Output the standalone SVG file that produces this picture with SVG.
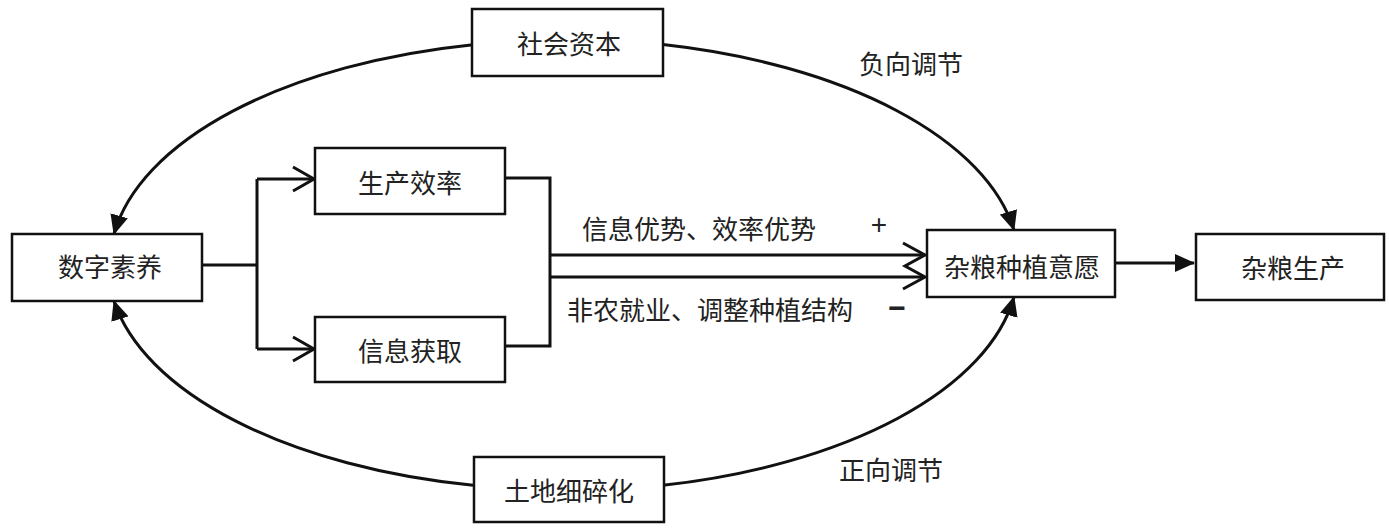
<svg xmlns="http://www.w3.org/2000/svg" width="1389" height="528" viewBox="0 0 1389 528">
<style>
.box{fill:#fff;stroke:#111;stroke-width:2.5}
.t{font-family:"Noto Sans CJK SC","Noto Sans",sans-serif;font-size:26px;fill:#222;text-anchor:middle;dominant-baseline:central}
.sign{font-family:"Liberation Sans","Noto Sans",sans-serif;fill:#222;text-anchor:middle;dominant-baseline:central}
.ln{fill:none;stroke:#111;stroke-width:3}
.open{fill:none;stroke:#111;stroke-width:3;stroke-linejoin:miter}
</style>
<defs>
<marker id="tri" markerUnits="userSpaceOnUse" markerWidth="20" markerHeight="18" refX="19" refY="9" orient="auto">
<path d="M0,0 L20,9 L0,18 z" fill="#111"/>
</marker>
</defs>
<rect width="1389" height="528" fill="#fff"/>
<g id="connectors">
<path class="ln" d="M473,44.7 A455,225 0 0 0 114,234" marker-end="url(#tri)"/>
<path class="ln" d="M663,44.6 A455,225 0 0 1 1014,230" marker-end="url(#tri)"/>
<path class="ln" d="M473,485.3 A455,225 0 0 1 114,301" marker-end="url(#tri)"/>
<path class="ln" d="M663,485.3 A455,225 0 0 0 1014,297" marker-end="url(#tri)"/>
<path class="ln" d="M202,265 H257 M257,179 V349 M257,179 H314 M257,349 H314"/>
<polyline class="open" points="293,167 314,179 293,191"/>
<polyline class="open" points="293,337 314,349 293,361"/>
<path class="ln" d="M505,178 H550 V346 H505"/>
<path class="ln" d="M550,255 H925 M550,277 H925"/>
<polyline class="open" points="903,243 925,255 905,266 925,277 903,289"/>
<path class="ln" d="M1115,263 H1194" marker-end="url(#tri)"/>
</g>
<g id="n-shehui"><rect class="box" x="472" y="9" width="191" height="67"/><text class="t" x="569" y="42">社会资本</text></g>
<g id="n-shengchan"><rect class="box" x="315" y="148" width="190" height="66"/><text class="t" x="410" y="181">生产效率</text></g>
<g id="n-xinxi"><rect class="box" x="315" y="317" width="190" height="65"/><text class="t" x="410" y="349">信息获取</text></g>
<g id="n-shuzi"><rect class="box" x="12" y="234" width="190" height="67"/><text class="t" x="110" y="265">数字素养</text></g>
<g id="n-yiyuan"><rect class="box" x="927" y="230" width="188" height="67"/><text class="t" x="1022" y="265">杂粮种植意愿</text></g>
<g id="n-shengchan2"><rect class="box" x="1196" y="234" width="188" height="66"/><text class="t" x="1293" y="266">杂粮生产</text></g>
<g id="n-tudi"><rect class="box" x="474" y="457" width="190" height="65"/><text class="t" x="569" y="489">土地细碎化</text></g>
<g id="labels">
<text class="t" x="699" y="227">信息优势、效率优势</text>
<text class="sign" x="879" y="224" font-size="28">+</text>
<text class="t" x="710" y="308">非农就业、调整种植结构</text>
<text class="sign" x="897" y="307" font-size="30" font-weight="bold">−</text>
<text class="t" x="911" y="62">负向调节</text>
<text class="t" x="891" y="468">正向调节</text>
</g>
</svg>
